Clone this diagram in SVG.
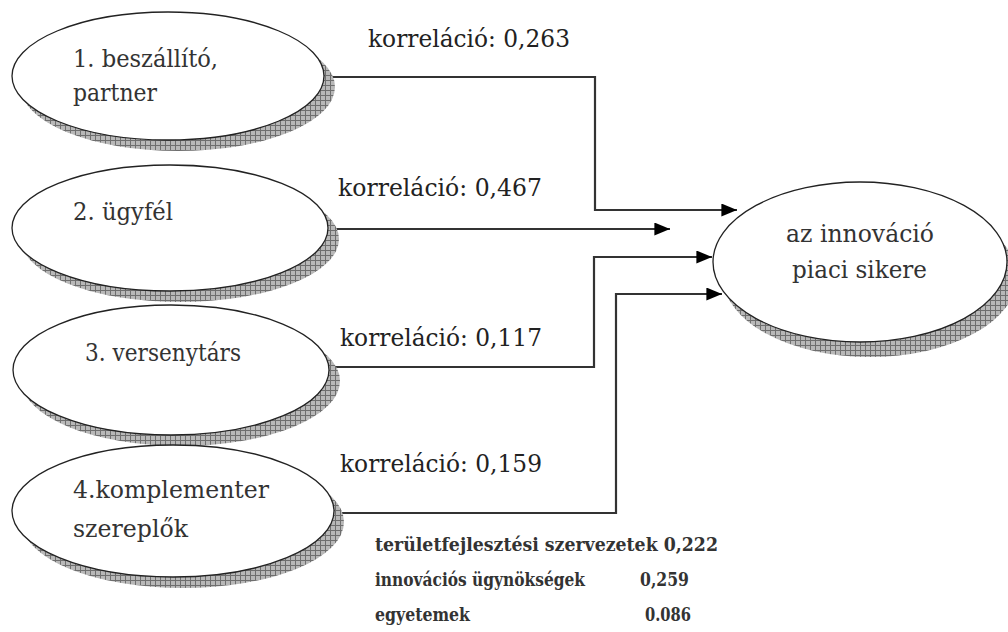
<svg xmlns="http://www.w3.org/2000/svg" width="1008" height="632" viewBox="0 0 1008 632">
<defs>
<pattern id="hatch" width="5" height="5" patternUnits="userSpaceOnUse">
<rect width="5" height="5" fill="#b8b8b8"/>
<path d="M0 0.5H5M0.5 0V5" stroke="#6e6e6e" stroke-width="1"/>
</pattern>
<marker id="arrL" viewBox="0 0 12 10" refX="12" refY="5" markerWidth="16" markerHeight="13" markerUnits="userSpaceOnUse" orient="auto">
<path d="M0 0L12 5L0 10z" fill="#000"/>
</marker>
</defs>
<style>
.sh{fill:url(#hatch);stroke:none}
.el{fill:#fff;stroke:#222;stroke-width:1.3}
.t{font-size:25px;fill:#333}
.lb{font-size:25px;fill:#222}
.sm{font-size:18px;font-weight:bold;fill:#333}
.cn{fill:none;stroke:#333;stroke-width:2.2;marker-end:url(#arrL)}
</style>
<rect width="1008" height="632" fill="#fff"/>
<g id="connectors">
<path class="cn" d="M325 77H595V210H737"/>
<path class="cn" d="M330 229H670"/>
<path class="cn" d="M330 367H594V257H712"/>
<path class="cn" d="M335 513H616V294H722"/>
</g>
<g font-family="'DejaVu Serif','Liberation Serif','Times New Roman',Times,serif">
<g id="node1">
<ellipse class="sh" cx="178" cy="87" rx="157" ry="64"/>
<ellipse class="el" cx="168" cy="76" rx="156" ry="64"/>
<text class="t" x="73" y="67" textLength="145" lengthAdjust="spacingAndGlyphs">1. beszállító,</text>
<text class="t" x="73" y="101" textLength="84" lengthAdjust="spacingAndGlyphs">partner</text>
</g>
<g id="node2">
<ellipse class="sh" cx="180" cy="239" rx="159" ry="63"/>
<ellipse class="el" cx="170" cy="228" rx="158" ry="63"/>
<text class="t" x="73" y="220" textLength="100" lengthAdjust="spacingAndGlyphs">2. ügyfél</text>
</g>
<g id="node3">
<ellipse class="sh" cx="181" cy="381" rx="159" ry="65"/>
<ellipse class="el" cx="171" cy="370" rx="158" ry="65"/>
<text class="t" x="85" y="361" textLength="156" lengthAdjust="spacingAndGlyphs">3. versenytárs</text>
</g>
<g id="node4">
<ellipse class="sh" cx="183" cy="522" rx="161" ry="66"/>
<ellipse class="el" cx="173" cy="511" rx="161" ry="66"/>
<text class="t" x="73" y="498" textLength="196" lengthAdjust="spacingAndGlyphs">4.komplementer</text>
<text class="t" x="73" y="537" textLength="115" lengthAdjust="spacingAndGlyphs">szereplők</text>
</g>
<g id="target">
<ellipse class="sh" cx="870" cy="277" rx="147" ry="80"/>
<ellipse class="el" cx="860" cy="262" rx="147" ry="80"/>
<text class="t" x="786" y="242" textLength="148" lengthAdjust="spacingAndGlyphs">az innováció</text>
<text class="t" x="792" y="278" textLength="135" lengthAdjust="spacingAndGlyphs">piaci sikere</text>
</g>
<g id="labels">
<text class="lb" x="368" y="47" textLength="202" lengthAdjust="spacingAndGlyphs">korreláció: 0,263</text>
<text class="lb" x="338" y="196" textLength="204" lengthAdjust="spacingAndGlyphs">korreláció: 0,467</text>
<text class="lb" x="340" y="346" textLength="202" lengthAdjust="spacingAndGlyphs">korreláció: 0,117</text>
<text class="lb" x="340" y="472" textLength="202" lengthAdjust="spacingAndGlyphs">korreláció: 0,159</text>
<text class="sm" x="375" y="551" textLength="343" lengthAdjust="spacingAndGlyphs">területfejlesztési szervezetek 0,222</text>
<text class="sm" x="375" y="586" textLength="210" lengthAdjust="spacingAndGlyphs">innovációs ügynökségek</text>
<text class="sm" x="640" y="586" textLength="49" lengthAdjust="spacingAndGlyphs">0,259</text>
<text class="sm" x="375" y="621" textLength="95" lengthAdjust="spacingAndGlyphs">egyetemek</text>
<text class="sm" x="645" y="621" textLength="46" lengthAdjust="spacingAndGlyphs">0.086</text>
</g>
</g>
</svg>
